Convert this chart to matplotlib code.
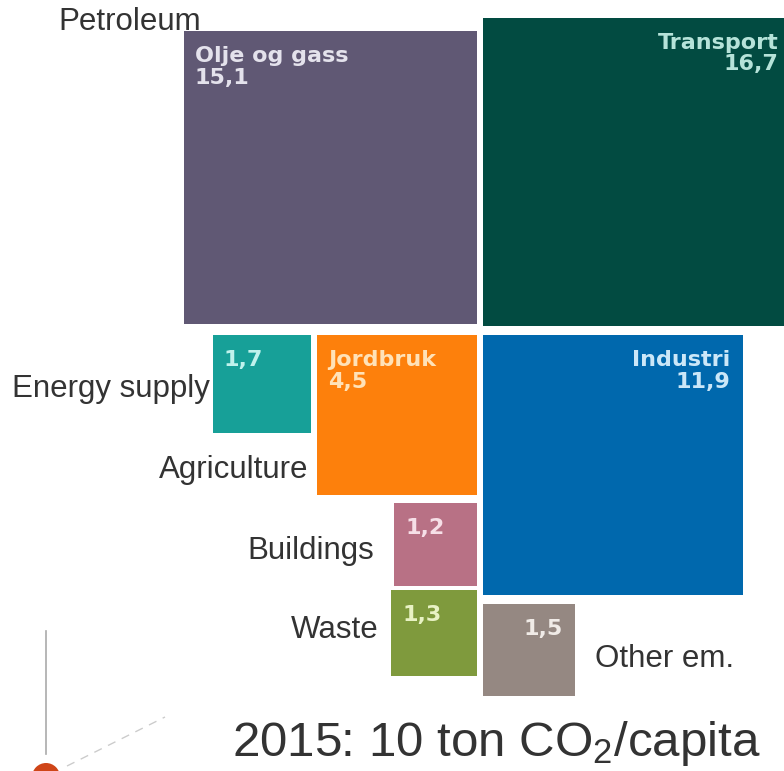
import numpy as np
import matplotlib
matplotlib.use("Agg")
import matplotlib.pyplot as plt
from matplotlib.patches import Rectangle, Circle

plt.rcParams["mathtext.fontset"] = "custom"
plt.rcParams["mathtext.rm"] = "Liberation Sans"
plt.rcParams["mathtext.it"] = "Liberation Sans:italic"
plt.rcParams["mathtext.bf"] = "Liberation Sans:bold"

# ---- data ----
categories = ["Olje og gass", "Transport", "Energy supply", "Jordbruk",
              "Industri", "Buildings", "Waste", "Other em."]
values = [15.1, 16.7, 1.7, 4.5, 11.9, 1.2, 1.3, 1.5]
inner_labels = ["Olje og gass\n15,1", "Transport\n16,7", "1,7", "Jordbruk\n4,5",
                "Industri\n11,9", "1,2", "1,3", "1,5"]
outer_labels = ["Petroleum", "", "Energy supply", "Agriculture", "",
                "Buildings", "Waste", "Other em."]
title_text = "2015: 10 ton CO$_\\mathrm{2}$/capita"

colors = ["#605874", "#024b41", "#17a098", "#fd800c",
          "#0068ad", "#b87185", "#7f9a3d", "#958882"]
text_colors = ["#e4e2ec", "#b6e3d9", "#bff2ec", "#ffe2b8",
               "#cbe7f8", "#f6dfe7", "#e8f2c4", "#f0ebe7"]

# layout anchors: (anchor_x, anchor_y, x_mode, y_mode, text_align)
layout = [
    (477, 31, "right", "top", "left"),
    (483, 326, "left", "bottom", "right"),
    (311, 335, "right", "top", "left"),
    (477, 335, "right", "top", "left"),
    (483, 335, "left", "top", "right"),
    (477, 503, "right", "top", "left"),
    (477, 590, "right", "top", "left"),
    (483, 604, "left", "top", "right"),
]
# outer label positions (x, baseline y)
outer_pos = [(58, 30), None, (12, 397), (159, 478), None,
             (247, 559), (291, 638), (595, 667)]

W, H = 784, 771
fig = plt.figure(figsize=(W / 100, H / 100), dpi=100)
ax = fig.add_axes([0, 0, 1, 1])
ax.set_xlim(0, W)
ax.set_ylim(H, 0)
ax.axis("off")

for i, lab in enumerate(outer_labels):
    if outer_pos[i] is not None and lab:
        ox, oy = outer_pos[i]
        ax.text(ox, oy, lab, ha="left", va="baseline", color="#333333",
                fontsize=22.5, family="Liberation Sans", zorder=1)

k = 293 / np.sqrt(15.1)
for i, v in enumerate(values):
    s = k * np.sqrt(v)
    axx, ayy, xm, ym, ta = layout[i]
    x0 = axx - s if xm == "right" else axx
    y0 = ayy if ym == "top" else ayy - s
    ax.add_patch(Rectangle((x0, y0), s, s, facecolor=colors[i],
                           edgecolor="none", zorder=2))
    tx = x0 + 11 if ta == "left" else x0 + s - 13
    ax.text(tx, y0 + 15, inner_labels[i], ha=ta, va="top", color=text_colors[i],
            fontsize=16, fontweight="bold", family="DejaVu Sans",
            linespacing=1.1, zorder=3)

ax.text(232, 756, title_text, ha="left", va="baseline", color="#333333",
        fontsize=35.5, family="Liberation Sans")

# decoration
ax.plot([46, 46], [631, 754], color="#aaaaaa", lw=1.2)
ax.plot([67, 165], [766, 717], color="#cccccc", lw=1, ls=(0, (6, 5)))
ax.add_patch(Circle((46, 777), 14, facecolor="#cf4518", edgecolor="none"))

fig.savefig("out.png", dpi=100)
